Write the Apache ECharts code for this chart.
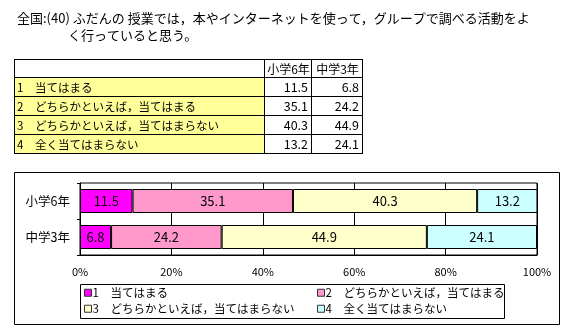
<!DOCTYPE html>
<html><head><meta charset="utf-8">
<script src="https://cdn.jsdelivr.net/npm/echarts@6/dist/echarts.min.js"></script>
<style>html,body{margin:0;padding:0;background:#fff}#c{width:566px;height:333px}</style>
</head><body><div id="c"></div>
<script>
var titleLine1 = '全国:(40) ふだんの 授業では，本やインターネットを使って，グループで調べる活動をよ';
var titleLine2 = 'く行っていると思う。';
var groups = ['小学6年', '中学3年'];
var answers = ['1　当てはまる', '2　どちらかといえば，当てはまる', '3　どちらかといえば，当てはまらない', '4　全く当てはまらない'];
var grade6 = [11.5, 35.1, 40.3, 13.2];
var grade9 = [6.8, 24.2, 44.9, 24.1];
var colors = ['#FF00FF', '#FF99CC', '#FFFFCC', '#CCFFFF'];
var xTicks = [0, 20, 40, 60, 80, 100];

var FONT = "'Noto Sans CJK JP', sans-serif";
var chart = echarts.init(document.getElementById('c'));

// table geometry
var tx = [14, 264, 311, 362];
var ty = [59, 77, 96, 115, 134, 153];
var g = [];
g.push({type:'text', left:17, top:12, style:{text:titleLine1, font:'13px ' + FONT, fill:'#000'}});
g.push({type:'text', left:68, top:29, style:{text:titleLine2, font:'13px ' + FONT, fill:'#000'}});
for (var r = 0; r < answers.length; r++) {
  g.push({type:'rect', shape:{x:tx[0], y:ty[r+1], width:tx[1]-tx[0], height:ty[r+2]-ty[r+1]}, style:{fill:'#FFFF99'}});
}
for (var i = 0; i < ty.length; i++) {
  g.push({type:'line', shape:{x1:tx[0], y1:ty[i]+0.5, x2:tx[3]+1, y2:ty[i]+0.5}, style:{stroke:'#000', lineWidth:1}});
}
for (var j = 0; j < tx.length; j++) {
  g.push({type:'line', shape:{x1:tx[j]+0.5, y1:ty[0], x2:tx[j]+0.5, y2:ty[ty.length-1]+1}, style:{stroke:'#000', lineWidth:1}});
}
for (var k = 0; k < groups.length; k++) {
  g.push({type:'text', x:(tx[k+1]+tx[k+2])/2+1, y:(ty[0]+ty[1])/2+1, style:{text:groups[k], font:'12px ' + FONT, fill:'#000', align:'center', verticalAlign:'middle'}});
}
for (var r2 = 0; r2 < answers.length; r2++) {
  var cy = (ty[r2+1]+ty[r2+2])/2+1;
  g.push({type:'text', x:17, y:cy, style:{text:answers[r2], font:'11.5px ' + FONT, fill:'#000', align:'left', verticalAlign:'middle'}});
  g.push({type:'text', x:tx[2]-3, y:cy, style:{text:grade6[r2].toFixed(1), font:'12.5px ' + FONT, fill:'#000', align:'right', verticalAlign:'middle'}});
  g.push({type:'text', x:tx[3]-3, y:cy, style:{text:grade9[r2].toFixed(1), font:'12.5px ' + FONT, fill:'#000', align:'right', verticalAlign:'middle'}});
}
g.push({type:'rect', shape:{x:14.5, y:172.5, width:545, height:152}, style:{fill:null, stroke:'#000', lineWidth:1}, z:-1});
g.push({type:'rect', shape:{x:80.5, y:284.5, width:424, height:34}, style:{fill:'#fff', stroke:'#000', lineWidth:1}, z:-1});

var legendPos = [[84, 287], [317, 287], [84, 303], [317, 303]];
var legends = answers.map(function (a, i) {
  return {data:[a], left:legendPos[i][0], top:legendPos[i][1], itemWidth:7, itemHeight:7, icon:'rect', padding:0, itemGap:0,
    itemStyle:{borderColor:'#333', borderWidth:1},
    textStyle:{fontFamily:FONT, fontSize:11.5, color:'#000', padding:[0,0,0,-4]}, selectedMode:false};
});

var series = answers.map(function (a, i) {
  return {
    name:a, type:'bar', stack:'all', barWidth:24,
    data:[grade6[i], grade9[i]],
    itemStyle:{color:colors[i], borderColor:'#000', borderWidth:1},
    label:{show:true, position:'inside', color:'#000', fontFamily:FONT, fontSize:13, formatter:function(p){return p.value.toFixed(1);}},
    emphasis:{disabled:true}
  };
});

chart.setOption({
  animation:false,
  graphic:g,
  legend:legends,
  grid:{left:80, top:183, width:457, height:72, show:true, borderColor:'#000', borderWidth:1, containLabel:false},
  xAxis:{type:'value', min:xTicks[0], max:xTicks[xTicks.length-1], interval:20,
    axisLine:{show:true, lineStyle:{color:'#000'}}, axisTick:{show:false},
    splitLine:{show:true, lineStyle:{color:'#000', width:1}},
    axisLabel:{formatter:'{value}%', color:'#000', fontFamily:FONT, fontSize:11, margin:11}},
  yAxis:{type:'category', data:groups, inverse:true,
    axisLine:{show:true, lineStyle:{color:'#000'}},
    axisTick:{show:true, length:3, lineStyle:{color:'#000'}},
    axisLabel:{color:'#000', fontFamily:FONT, fontSize:12.5, margin:10}},
  series:series
});
</script></body></html>
